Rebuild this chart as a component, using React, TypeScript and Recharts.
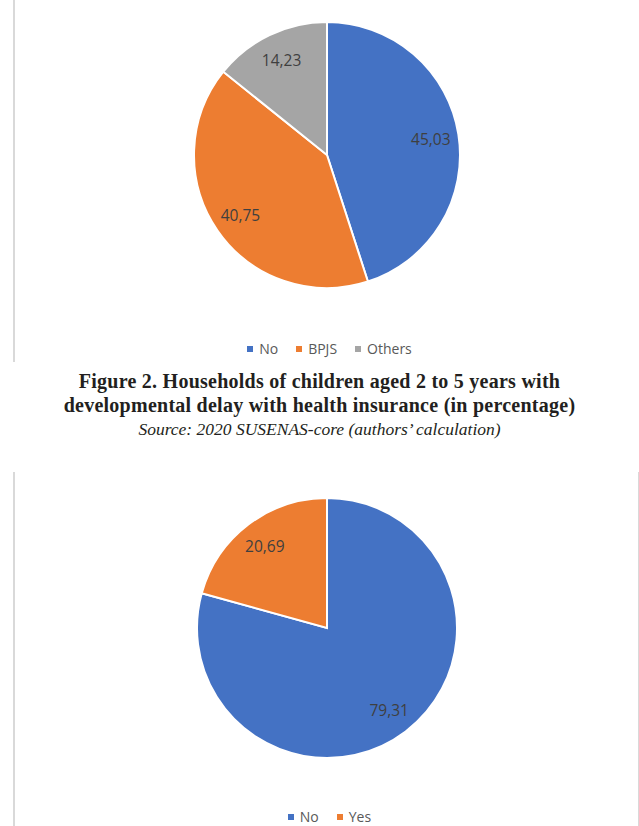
import React from 'react';
import { PieChart, Pie, Cell, Legend } from 'recharts';

// Figure 2 data: health insurance
const insuranceNames = ['No', 'BPJS', 'Others'];
const insuranceValues = [45.03, 40.75, 14.23];

// second chart data
const yesNoNames = ['No', 'Yes'];
const yesNoValues = [79.31, 20.69];

const sliceColors = ['#4472C4', '#ED7D31', '#A5A5A5'];

const captionLines = [
  'Figure 2. Households of children aged 2 to 5 years with',
  'developmental delay with health insurance (in percentage)',
];
const sourceLine = 'Source: 2020 SUSENAS-core (authors\u2019 calculation)';

const RAD = Math.PI / 180;

const renderLabel = (props: any) => {
  const { cx, cy, midAngle, outerRadius, value } = props;
  const r = outerRadius * 0.79;
  const x = cx + r * Math.cos(-midAngle * RAD);
  const y = cy + r * Math.sin(-midAngle * RAD);
  return (
    <text
      x={x}
      y={y}
      fill="#3f3f3f"
      fontSize={15.5}
      fontFamily="'Open Sans', sans-serif"
      textAnchor="middle"
      dominantBaseline="central"
    >
      {value.toFixed(2).replace('.', ',')}
    </text>
  );
};

// keep legend in data order (recharts sorts by name otherwise)
const makeLegend = (names: string[]) => () => (
  <div style={{ display: 'flex', justifyContent: 'center', alignItems: 'center', gap: 18, paddingLeft: 6, fontFamily: "'Open Sans', sans-serif", fontSize: 14, color: '#595959', lineHeight: '20px' }}>
    {names.map((n, i) => (
      <span key={n} style={{ display: 'inline-flex', alignItems: 'center' }}>
        <span style={{ width: 6, height: 6, background: sliceColors[i], marginRight: 6, display: 'inline-block' }} />
        {n}
      </span>
    ))}
  </div>
);

function PieBlock({ names, values, radius, cy, legendTop, height }: any) {
  const data = names.map((n: string, i: number) => ({ name: n, value: values[i] }));
  return (
    <PieChart width={623} height={height} margin={{ top: 0, right: 0, bottom: 0, left: 0 }}>
      <Pie
        data={data}
        dataKey="value"
        nameKey="name"
        cx={312}
        cy={cy}
        outerRadius={radius}
        startAngle={90}
        endAngle={-270}
        stroke="#ffffff"
        strokeWidth={2}
        label={renderLabel}
        labelLine={false}
        isAnimationActive={false}
      >
        {data.map((_: any, i: number) => (
          <Cell key={`c-${i}`} fill={sliceColors[i]} />
        ))}
      </Pie>
      <Legend content={makeLegend(names)} wrapperStyle={{ top: legendTop, left: 0, width: 623 }} />
    </PieChart>
  );
}

export default function App() {
  return (
    <div style={{ position: 'absolute', left: 0, top: 0, width: 639, height: 826, background: '#fff', overflow: 'hidden' }}>
      {/* first chart */}
      <div style={{ position: 'absolute', left: 13, top: 0, width: 623, height: 362, borderLeft: '2px solid #d9d9d9' }}>
        <PieBlock names={insuranceNames} values={insuranceValues} radius={133} cy={155} legendTop={339} height={362} />
      </div>

      {/* caption */}
      <div style={{ position: 'absolute', left: 0, top: 370, width: 639, textAlign: 'center', fontFamily: "'Liberation Serif', serif", color: '#231f20' }}>
        {captionLines.map((l) => (
          <div key={l} style={{ fontWeight: 'bold', fontSize: 20, letterSpacing: 0.25, lineHeight: '23.5px' }}>{l}</div>
        ))}
        <div style={{ fontStyle: 'italic', fontSize: 17.5, lineHeight: '24px' }}>{sourceLine}</div>
      </div>

      {/* second chart */}
      <div style={{ position: 'absolute', left: 13, top: 472, width: 623, height: 354, borderLeft: '2px solid #d9d9d9', borderRight: '2px solid #d9d9d9' }}>
        <PieBlock names={yesNoNames} values={yesNoValues} radius={130} cy={156} legendTop={335} height={370} />
      </div>
    </div>
  );
}
